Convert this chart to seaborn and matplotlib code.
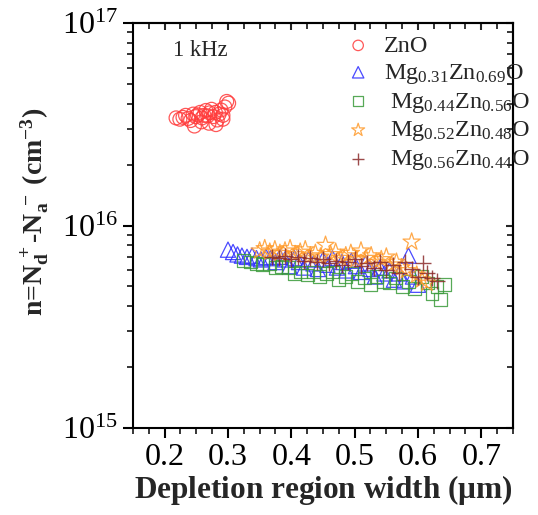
import numpy as np
import pandas as pd
import matplotlib
matplotlib.use('Agg')
import matplotlib.pyplot as plt
import matplotlib.ticker as ticker
import seaborn as sns

# ---------------------------------------------------------------------#
# ------------------------------ DATA ---------------------------------#
# ---------------------------------------------------------------------#

# depletion width (um) and carrier density (cm^-3)
zno_w = [0.218, 0.224, 0.229, 0.233, 0.237, 0.241, 0.245, 0.249, 0.252, 0.256,
         0.259, 0.262, 0.265, 0.268, 0.271, 0.274, 0.277, 0.280, 0.283, 0.286,
         0.289, 0.292, 0.295, 0.298, 0.301, 0.247, 0.258, 0.270, 0.281, 0.292]
zno_n = [3.40e16, 3.35e16, 3.42e16, 3.50e16, 3.38e16, 3.30e16, 3.55e16, 3.45e16, 3.52e16, 3.62e16,
         3.40e16, 3.50e16, 3.70e16, 3.48e16, 3.60e16, 3.75e16, 3.45e16, 3.62e16, 3.32e16, 3.55e16,
         3.72e16, 3.50e16, 3.85e16, 4.10e16, 4.02e16, 3.10e16, 3.25e16, 3.20e16, 3.15e16, 3.35e16]

mg31_w = [0.300, 0.308, 0.315, 0.322, 0.330, 0.338, 0.345, 0.352, 0.360, 0.367,
          0.375, 0.382, 0.390, 0.397, 0.405, 0.412, 0.420, 0.427, 0.435, 0.442,
          0.450, 0.457, 0.465, 0.472, 0.480, 0.487, 0.495, 0.502, 0.510, 0.517,
          0.525, 0.532, 0.540, 0.547, 0.555, 0.562, 0.570, 0.578, 0.585, 0.592, 0.600]
mg31_n = [7.6e15, 7.4e15, 7.2e15, 7.1e15, 7.0e15, 7.1e15, 6.9e15, 6.8e15, 7.0e15, 6.9e15,
          6.6e15, 7.0e15, 6.8e15, 6.3e15, 6.9e15, 6.6e15, 6.2e15, 6.8e15, 6.5e15, 6.1e15,
          6.8e15, 6.4e15, 6.9e15, 6.2e15, 6.6e15, 6.0e15, 6.7e15, 6.3e15, 5.9e15, 6.5e15,
          6.1e15, 5.6e15, 6.2e15, 5.8e15, 6.0e15, 5.4e15, 5.8e15, 5.3e15, 7.1e15, 5.6e15, 5.1e15]

mg44_w = [0.325, 0.335, 0.345, 0.355, 0.365, 0.375, 0.385, 0.395, 0.405, 0.415,
          0.425, 0.435, 0.445, 0.455, 0.465, 0.475, 0.485, 0.495, 0.505, 0.515,
          0.525, 0.535, 0.545, 0.555, 0.565, 0.575, 0.585, 0.595, 0.605, 0.615,
          0.622, 0.630, 0.635, 0.642]
mg44_n = [6.7e15, 6.6e15, 6.5e15, 6.4e15, 6.5e15, 6.2e15, 6.3e15, 6.2e15, 5.8e15, 5.9e15,
          5.7e15, 5.9e15, 5.6e15, 5.8e15, 5.9e15, 5.4e15, 5.6e15, 5.8e15, 5.3e15, 5.5e15,
          5.1e15, 5.6e15, 5.3e15, 5.2e15, 5.5e15, 5.0e15, 5.3e15, 4.9e15, 5.6e15, 5.2e15,
          4.6e15, 5.0e15, 4.3e15, 5.1e15]

mg52_w = [0.350, 0.358, 0.366, 0.374, 0.382, 0.390, 0.398, 0.406, 0.414, 0.422,
          0.430, 0.438, 0.446, 0.454, 0.462, 0.470, 0.478, 0.486, 0.494, 0.502,
          0.510, 0.518, 0.526, 0.534, 0.542, 0.550, 0.558, 0.566, 0.574, 0.582,
          0.590, 0.598, 0.606, 0.614]
mg52_n = [7.5e15, 7.7e15, 7.4e15, 7.6e15, 7.3e15, 7.5e15, 7.7e15, 7.2e15, 7.4e15, 7.6e15,
          7.1e15, 7.3e15, 7.0e15, 8.0e15, 7.2e15, 7.4e15, 6.9e15, 7.1e15, 7.3e15, 6.8e15,
          7.5e15, 6.9e15, 7.1e15, 6.6e15, 6.8e15, 7.0e15, 6.4e15, 6.6e15, 6.2e15, 6.0e15,
          8.3e15, 5.7e15, 5.4e15, 5.2e15]

mg56_w = [0.370, 0.380, 0.390, 0.400, 0.410, 0.420, 0.430, 0.440, 0.450, 0.460,
          0.470, 0.480, 0.490, 0.500, 0.510, 0.520, 0.530, 0.540, 0.550, 0.560,
          0.570, 0.580, 0.590, 0.600, 0.608, 0.615, 0.622, 0.630]
mg56_n = [7.0e15, 6.9e15, 7.1e15, 6.8e15, 7.0e15, 6.7e15, 6.9e15, 6.6e15, 6.8e15, 6.5e15,
          6.7e15, 6.4e15, 6.6e15, 6.8e15, 6.3e15, 6.5e15, 6.2e15, 6.6e15, 6.0e15, 6.4e15,
          5.8e15, 6.6e15, 6.1e15, 5.6e15, 6.5e15, 5.8e15, 5.5e15, 5.3e15]

labels = ['ZnO',
          r'Mg$_{0.31}$Zn$_{0.69}$O',
          r' Mg$_{0.44}$Zn$_{0.56}$O',
          r' Mg$_{0.52}$Zn$_{0.48}$O',
          r' Mg$_{0.56}$Zn$_{0.44}$O']
x_ticks = [0.2, 0.3, 0.4, 0.5, 0.6, 0.7]

series = [(zno_w, zno_n, 'o', '#FF3B3B', 100),
          (mg31_w, mg31_n, '^', '#2A2AFF', 120),
          (mg44_w, mg44_n, 's', '#3A9A3A', 85),
          (mg52_w, mg52_n, '*', '#FF9A2A', 170),
          (mg56_w, mg56_n, '+', '#8B2A2A', 120)]

# ---------------------------------------------------------------------#
# ------------------------------ STYLE --------------------------------#
# ---------------------------------------------------------------------#

sns.set_style('ticks')
plt.rcParams['font.family'] = ['Liberation Serif', 'DejaVu Serif']
plt.rcParams['mathtext.fontset'] = 'custom'
plt.rcParams['mathtext.rm'] = 'Liberation Serif'
plt.rcParams['mathtext.it'] = 'Liberation Serif:italic'
plt.rcParams['mathtext.bf'] = 'Liberation Serif:bold'

fig = plt.figure(figsize=(5.38, 5.15), dpi=100)
ax = fig.add_axes([0.2472, 0.1689, 0.7063, 0.7864])

for (w, n, m, c, size), lab in zip(series, labels):
    df = pd.DataFrame({'w': w, 'n': n})
    if m == '+':
        sns.scatterplot(data=df, x='w', y='n', ax=ax, marker=m, color=c,
                        s=size, linewidth=1.0, label=lab, alpha=0.85)
    else:
        sns.scatterplot(data=df, x='w', y='n', ax=ax, marker=m, s=size,
                        facecolors='none', edgecolor=c, linewidth=0.9,
                        label=lab, alpha=0.85)

ax.set_yscale('log')
ax.set_xlim(0.15, 0.75)
ax.set_ylim(1e15, 1e17)
ax.set_xticks(x_ticks)
ax.xaxis.set_major_formatter(ticker.FormatStrFormatter('%.1f'))
ax.xaxis.set_minor_locator(ticker.MultipleLocator(0.025))
ax.yaxis.set_minor_locator(ticker.LogLocator(base=10, subs=np.arange(2, 10)))
ax.yaxis.set_minor_formatter(ticker.NullFormatter())

for s in ax.spines.values():
    s.set_linewidth(1.5)
    s.set_color('black')

ax.tick_params(axis='both', which='major', labelsize=23, length=7, width=1.5,
               direction='out', pad=4, colors='black')
ax.tick_params(axis='both', which='minor', length=4, width=1.3, direction='out')
ax.tick_params(axis='x', which='both', top=False)
ax.tick_params(axis='y', which='both', right=False)

# top/right ticks point inward
secx = ax.secondary_xaxis('top')
secx.set_xticks(x_ticks)
secx.xaxis.set_minor_locator(ticker.MultipleLocator(0.025))
secx.tick_params(which='major', direction='in', length=5, width=1.5, labeltop=False)
secx.tick_params(which='minor', direction='in', length=4, width=1.3)
secx.spines['top'].set_linewidth(1.5)
secy = ax.secondary_yaxis('right')
secy.yaxis.set_minor_locator(ticker.LogLocator(base=10, subs=np.arange(2, 10)))
secy.yaxis.set_minor_formatter(ticker.NullFormatter())
secy.tick_params(which='major', direction='in', length=5, width=1.5, labelright=False)
secy.tick_params(which='minor', direction='in', length=4, width=1.3)
secy.spines['right'].set_linewidth(1.5)

ax.set_xlabel(r'Depletion region width ($\mathbf{\mu}$m)', fontsize=22.5, fontweight='bold')
ax.set_ylabel(r'$\mathbf{n}$=$\mathbf{N_d^{\ +}}$-$\mathbf{N_a^{\ -}}$ (cm$\mathbf{^{-3}}$)',
              fontsize=20, fontweight='bold')
ax.xaxis.set_label_coords(0.5, -0.111)
ax.xaxis.label.set_va('top')
ax.yaxis.set_label_coords(-0.215, 0.535)

ax.text(0.105, 0.933, '1 kHz', transform=ax.transAxes, fontsize=16.3,
        ha='left', va='center')

leg = ax.legend(loc='upper left', bbox_to_anchor=(0.535, 0.995), frameon=False,
                fontsize=17.5, handlelength=1.0, handletextpad=0.55,
                labelspacing=0.2, borderaxespad=0, markerscale=0.75)

fig.savefig('out.png', dpi=100)
